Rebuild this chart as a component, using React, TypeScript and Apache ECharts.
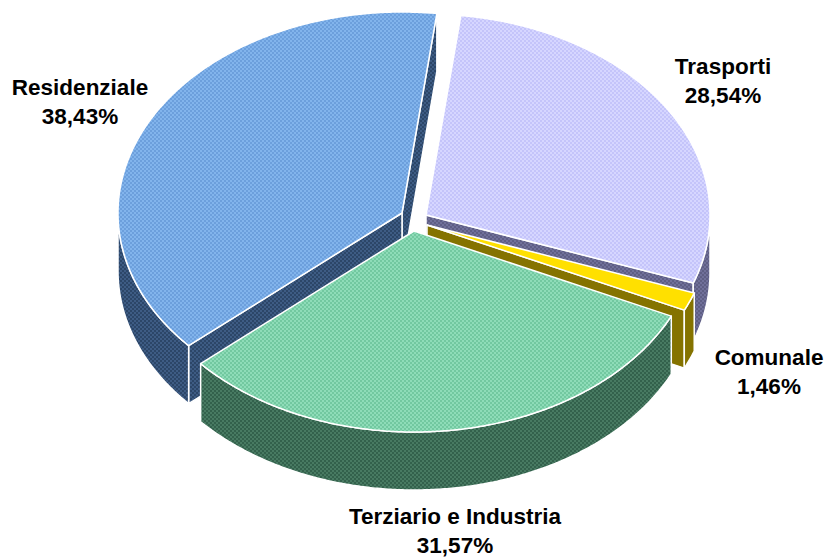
import React, { useEffect, useRef } from "react";
import * as echarts from "echarts";

const sliceNames = ["Residenziale", "Trasporti", "Comunale", "Terziario e Industria"];
const sliceValues = [38.43, 28.54, 1.46, 31.57];
const startAngle = -131.3; // first slice begins here, clockwise from the top of the ellipse

const RX = 284;
const RY = 201;
const DEPTH = 58;
const apexes: number[][] = [[402, 213], [426, 215], [427, 225], [414, 231]];
const labelPos: number[][] = [[80, 102], [723, 81], [769, 372], [455, 531]];
const topColors: string[][] = [["#6c9fdc", "#82b4ec"], ["#c4c4fa", "#d6d6ff"], ["#ffe000", "#ffe000"], ["#72c8a0", "#8edcb8"]];
const sideColors: string[][] = [["#2c4668", "#3e5c84"], ["#5e5e84", "#70709a"], ["#857300", "#857300"], ["#33614c", "#487a62"]];

function tile(c: string[]): any {
  const cv = document.createElement("canvas");
  cv.width = 4;
  cv.height = 4;
  const g = cv.getContext("2d")!;
  g.fillStyle = c[1];
  g.fillRect(0, 0, 4, 4);
  g.fillStyle = c[0];
  g.fillRect(0, 0, 2, 2);
  g.fillRect(2, 2, 2, 2);
  return { image: cv, repeat: "repeat", imageWidth: 4, imageHeight: 4 };
}

function pt(ap: number[], deg: number, dz = 0): number[] {
  const t = (deg * Math.PI) / 180;
  return [ap[0] + RX * Math.sin(t), ap[1] - RY * Math.cos(t) + dz];
}

function arc(ap: number[], a: number, b: number, dz = 0): number[][] {
  const n = Math.max(2, Math.ceil(Math.abs(b - a) * 2));
  const out: number[][] = [];
  for (let i = 0; i <= n; i++) out.push(pt(ap, a + ((b - a) * i) / n, dz));
  return out;
}

export default function App() {
  const ref = useRef<HTMLDivElement>(null);
  useEffect(() => {
    document.body.style.margin = "0";
    const chart = echarts.init(ref.current!, null, { renderer: "svg" });
    const total = sliceValues.reduce((s, v) => s + v, 0);
    const spans: number[][] = [];
    let acc = startAngle;
    sliceValues.forEach((v) => {
      const end = acc + (v / total) * 360;
      spans.push([acc, end]);
      acc = end;
    });
    const edge = { stroke: "#ffffff", lineWidth: 1.5, lineJoin: "round" };
    const poly = (points: number[][], fill: any, z2: number) => ({
      type: "polygon",
      shape: { points },
      style: { fill, ...edge },
      z2,
    });
    chart.setOption({
      animation: false,
      backgroundColor: "#ffffff",
      series: [
        {
          type: "custom",
          coordinateSystem: "none",
          silent: true,
          data: sliceValues.map((v, i) => ({ value: v, name: sliceNames[i] })),
          renderItem: (params: any) => {
            const i = params.dataIndex;
            const [a, b] = spans[i];
            const ap = apexes[i];
            const side = tile(sideColors[i]);
            const top = tile(topColors[i]);
            const children: any[] = [];
            const wall = (deg: number) => {
              const p = pt(ap, deg);
              children.push(poly([ap, p, [p[0], p[1] + DEPTH], [ap[0], ap[1] + DEPTH]], side, 1));
            };
            // cut faces that look toward the viewer
            if (i === 0) { wall(b); wall(a); }
            if (i === 1) wall(b);
            if (i === 2) wall(b);
            // rim: portion of the outer wall on the lower half of the ellipse
            const spansRim: number[][] = [];
            for (const k of [0, 360, -360]) {
              const lo = Math.max(a + k, 90);
              const hi = Math.min(b + k, 270);
              if (lo < hi) spansRim.push([lo, hi]);
            }
            spansRim.forEach(([lo, hi]) => {
              children.push(poly([...arc(ap, lo, hi), ...arc(ap, hi, lo, DEPTH)], side, 2));
            });
            children.push(poly([ap, ...arc(ap, a, b)], top, 3));
            const lp = labelPos[i];
            children.push({
              type: "text",
              x: lp[0],
              y: lp[1],
              z2: 5,
              style: {
                text: `${sliceNames[i]}\n${sliceValues[i].toFixed(2).replace(".", ",")}%`,
                font: 'bold 22.5px "Liberation Sans", Arial, sans-serif',
                fill: "#000000",
                align: "center",
                verticalAlign: "middle",
                lineHeight: 29,
              },
            });
            return { type: "group", children };
          },
        },
      ],
    });
    return () => chart.dispose();
  }, []);
  return <div ref={ref} style={{ width: 827, height: 558 }} />;
}
